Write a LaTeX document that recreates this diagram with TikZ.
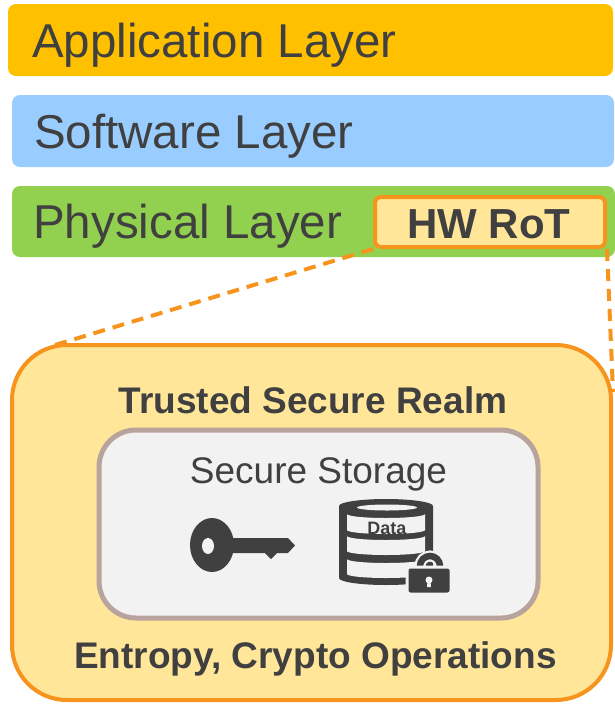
\documentclass[tikz,border=0pt]{standalone}
\usepackage{fontspec}
\setmainfont{Liberation Sans}
\usepackage{tikz}
\usetikzlibrary{positioning, calc}

\definecolor{appcol}{HTML}{FFC000}
\definecolor{softcol}{HTML}{99CCFF}
\definecolor{physcol}{HTML}{92D050}
\definecolor{rotorange}{HTML}{F7941D}
\definecolor{realmfill}{HTML}{FFE699}
\definecolor{storefill}{HTML}{F2F2F2}
\definecolor{storeline}{HTML}{B9A39D}
\definecolor{ink}{HTML}{404040}

\tikzset{
  layerbox/.style={rectangle, rounded corners=8pt, inner sep=0pt},
  layertext/.style={anchor=base west, inner sep=0pt, text=ink,
    font=\fontsize{47.5}{50}\selectfont},
  boldtext/.style={anchor=base, inner sep=0pt, text=ink,
    font=\bfseries\fontsize{37}{40}\selectfont},
  zoomline/.style={rotorange, line width=4pt, dash pattern=on 12pt off 8pt}
}

\begin{document}
\begin{tikzpicture}[x=1pt, y=-1pt]
\useasboundingbox (0,0) rectangle (615,705);

% layer stack
\node[layerbox, fill=appcol, minimum width=605pt, minimum height=72pt] (app) at (310.5,40) {};
\node[layerbox, fill=softcol, minimum width=602pt, minimum height=72pt] (soft) at (313,131) {};
\node[layerbox, fill=physcol, minimum width=603pt, minimum height=71pt] (phys) at (313.5,221.5) {};
\node[layertext] (apptxt) at (32,57) {Application Layer};
\node[layertext] (softtxt) at (34,148) {Software Layer};
\node[layertext] (phystxt) at (33,238.5) {Physical Layer};

% hardware root of trust
\node[rectangle, rounded corners=6pt, draw=rotorange, line width=4pt, fill=realmfill,
  minimum width=230pt, minimum height=50pt, inner sep=0pt] (hw) at (490,222) {};
\node[boldtext, font=\bfseries\fontsize{42}{44}\selectfont] (hwtxt) at (489,238) {HW RoT};

% zoom lines
\coordinate (zoomL) at (55,345);
\coordinate (zoomR) at (613,392);
\draw[zoomline] (hw.south west) -- (zoomL);
\draw[zoomline] (hw.south east) -- (zoomR);

% trusted realm
\node[rectangle, rounded corners=55pt, draw=rotorange, line width=4pt, fill=realmfill,
  minimum width=599pt, minimum height=355pt, inner sep=0pt] (realm) at (311.5,522.5) {};
\node[boldtext] (realmtxt) at (313,413) {Trusted Secure Realm};
\node[boldtext] (entropy) at (315.5,668) {Entropy, Crypto Operations};

% secure storage
\node[rectangle, rounded corners=37pt, draw=storeline, line width=5pt, fill=storefill,
  minimum width=439pt, minimum height=188pt, inner sep=0pt] (store) at (318.5,524) {};
\node[anchor=base, inner sep=0pt, text=ink, font=\fontsize{37}{40}\selectfont] (storetxt) at (318.5,483) {Secure Storage};

% key
\fill[ink] (212,545) ellipse [x radius=22, y radius=27];
\fill[ink] (230,538) -- (288,538) -- (295,545.5) -- (288,553) -- (277,553)
  -- (271,559) -- (265,553) -- (230,553) -- cycle;
\fill[storefill] (208,546) ellipse [x radius=6, y radius=8];

% database
\fill[ink] (339,506) -- (339,578) arc[start angle=180, end angle=0, x radius=47, y radius=7]
  -- (433,506) arc[start angle=0, end angle=-180, x radius=47, y radius=7] -- cycle;
\fill[storefill] (387,507.5) ellipse [x radius=30, y radius=3];
\foreach \t/\b in {514/530, 536/551, 559/574} {
  \fill[storefill] (347,\t) arc[start angle=180, end angle=0, x radius=39, y radius=4]
    -- (425,\b) arc[start angle=0, end angle=180, x radius=39, y radius=4] -- cycle;
}
\node[anchor=base, inner sep=0pt, text=ink, font=\bfseries\fontsize{18}{18}\selectfont] (datatxt) at (387,534) {Data};

% lock
\draw[storefill, line width=11pt] (420,571) -- (420,566) arc[start angle=180, end angle=360, radius=10] -- (440,571);
\draw[ink, line width=6.5pt] (420,571) -- (420,566) arc[start angle=180, end angle=360, radius=10] -- (440,571);
\filldraw[fill=ink, draw=storefill, line width=3pt, rounded corners=3pt] (407,567) rectangle (451,594);
\fill[storefill] (429,580) circle (3.5);
\fill[storefill] (427.5,581) -- (430.5,581) -- (431,587) -- (427,587) -- cycle;
\end{tikzpicture}
\end{document}
